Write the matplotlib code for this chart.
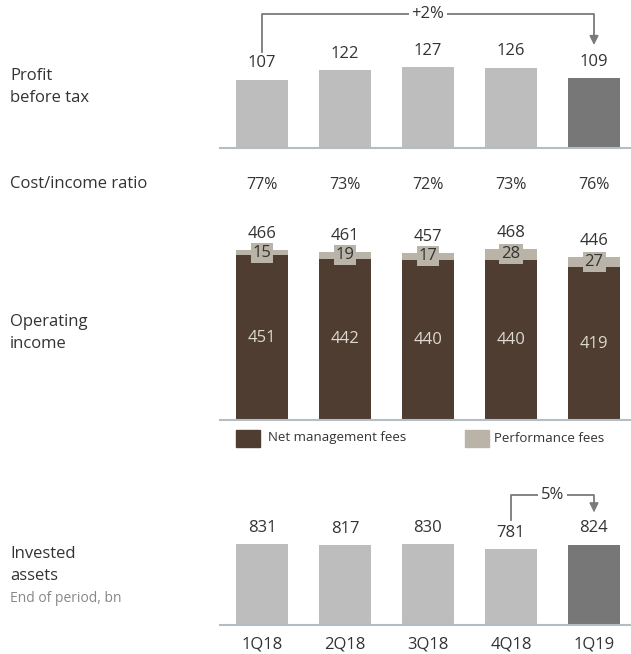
import matplotlib.pyplot as plt
import numpy as np

plt.rcParams['font.family'] = ['Open Sans', 'DejaVu Sans']

quarters = ["1Q18", "2Q18", "3Q18", "4Q18", "1Q19"]
profit = [107, 122, 127, 126, 109]
cost_income = ["77%", "73%", "72%", "73%", "76%"]
mgmt_fees = [451, 442, 440, 440, 419]
perf_fees = [15, 19, 17, 28, 27]
op_income = [466, 461, 457, 468, 446]
invested = [831, 817, 830, 781, 824]

W, H = 631, 654
LIGHT = "#bdbdbd"
DARK = "#777777"
BROWN = "#4f3d31"
PERF = "#b9b3a8"
AXIS = "#b4bcc4"
TXT = "#333333"
ARROW = "#7a7a7a"

fig = plt.figure(figsize=(W / 100, H / 100), dpi=100)


def px_axes(left, top, right, bottom):
    # pixel box -> figure fraction
    return fig.add_axes([left / W, 1 - bottom / H, (right - left) / W, (bottom - top) / H])


x = np.arange(len(quarters))
xl = (-42 / 83, (631 - 220 - 42) / 83)
bw = 52 / 83
bar_cols = [LIGHT] * 4 + [DARK]


def style(ax):
    ax.set_xlim(*xl)
    for s in ["top", "right", "left"]:
        ax.spines[s].set_visible(False)
    ax.spines["bottom"].set_color(AXIS)
    ax.spines["bottom"].set_linewidth(1.5)
    ax.set_yticks([])
    ax.set_xticks([])


def bracket(ax, i0, i1, y_low, y_top, y_tip, label, xt):
    ax.plot([i0, i0, i1, i1], [y_low, y_top, y_top, y_tip + (y_top - y_tip) * 0.35],
            color=ARROW, lw=1.3)
    ax.annotate("", xy=(i1, y_tip), xytext=(i1, y_tip + (y_top - y_tip) * 0.45),
                arrowprops=dict(arrowstyle="-|>", color=ARROW, lw=1.3, mutation_scale=13))
    ax.text(xt, y_top, label, ha="center", va="center", fontsize=12, color=TXT,
            bbox=dict(facecolor="white", edgecolor="none", pad=2))


# profit before tax
ax1 = px_axes(220, 5, 631, 148)
ax1.bar(x, profit, width=bw, color=bar_cols)
ax1.set_ylim(0, 224)
style(ax1)
for i, v in enumerate(profit):
    ax1.annotate(str(v), (i, v), xytext=(0, 6), textcoords="offset points",
                 ha="center", va="bottom", fontsize=12, color=TXT)
bracket(ax1, 0, 4, 150, 210, 157, "+2%", 2)

# cost/income ratio
for i, c in enumerate(cost_income):
    fig.text((220 + 42 + 83 * i) / W, 1 - 185 / H, c, ha="center", va="center",
             fontsize=11.5, color=TXT)

# operating income
ax2 = px_axes(220, 215, 631, 420)
ax2.bar(x, mgmt_fees, width=bw, color=BROWN)
ax2.bar(x, perf_fees, width=bw, bottom=mgmt_fees, color=PERF)
ax2.set_ylim(0, 562)
style(ax2)
for i in range(len(quarters)):
    ax2.text(i, mgmt_fees[i] / 2, str(mgmt_fees[i]), ha="center", va="center",
             fontsize=12, color="#ddd8d0")
    ax2.text(i, mgmt_fees[i] + perf_fees[i] / 2, str(perf_fees[i]), ha="center", va="center",
             fontsize=12, color=TXT,
             bbox=dict(facecolor=PERF, edgecolor="none", pad=1.5))
    ax2.annotate(str(op_income[i]), (i, op_income[i]), xytext=(0, 6), textcoords="offset points",
                 ha="center", va="bottom", fontsize=12, color=TXT)

# legend
fig.patches.append(plt.Rectangle((236 / W, 1 - 447 / H), 24 / W, 17 / H,
                                 transform=fig.transFigure, color=BROWN))
fig.text(268 / W, 1 - 438 / H, "Net management fees", ha="left", va="center",
         fontsize=9.5, color=TXT)
fig.patches.append(plt.Rectangle((465 / W, 1 - 447 / H), 24 / W, 17 / H,
                                 transform=fig.transFigure, color=PERF))
fig.text(494 / W, 1 - 438 / H, "Performance fees", ha="left", va="center",
         fontsize=9.5, color=TXT)

# invested assets
ax3 = px_axes(220, 490, 631, 625)
ax3.bar(x, invested, width=bw, color=bar_cols)
ax3.set_ylim(0, 1385)
style(ax3)
ax3.set_xticks(x)
ax3.set_xticklabels(quarters, fontsize=12, color=TXT)
ax3.tick_params(axis="x", length=0, pad=8)
for i, v in enumerate(invested):
    ax3.annotate(str(v), (i, v), xytext=(0, 6), textcoords="offset points",
                 ha="center", va="bottom", fontsize=12, color=TXT)
bracket(ax3, 3, 4, 1077, 1334, 1128, "5%", 3.5)

# row labels
fig.text(10 / W, 1 - 87 / H, "Profit\nbefore tax", ha="left", va="center",
         fontsize=12, color=TXT, linespacing=1.5)
fig.text(10 / W, 1 - 184 / H, "Cost/income ratio", ha="left", va="center",
         fontsize=12, color=TXT)
fig.text(10 / W, 1 - 333 / H, "Operating\nincome", ha="left", va="center",
         fontsize=12, color=TXT, linespacing=1.5)
fig.text(10 / W, 1 - 565 / H, "Invested\nassets", ha="left", va="center",
         fontsize=12, color=TXT, linespacing=1.5)
fig.text(10 / W, 1 - 598 / H, "End of period, bn", ha="left", va="center",
         fontsize=10, color="#888888")

fig.savefig("out.png", dpi=100)
